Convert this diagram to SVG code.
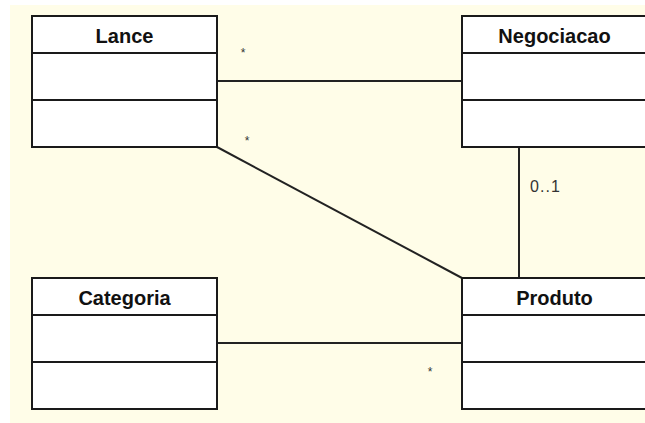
<svg xmlns="http://www.w3.org/2000/svg" width="645" height="423" viewBox="0 0 645 423">
<style>
.box{fill:#ffffff;stroke:#1a1a1a;stroke-width:2}
.div{stroke:#1a1a1a;stroke-width:2}
.title{font-family:"Liberation Sans",Arial,sans-serif;font-weight:bold;font-size:20px;fill:#111;text-anchor:middle}
.conn{stroke:#222;stroke-width:2;fill:none}
.mult{font-family:"Liberation Sans",Arial,sans-serif;font-size:12px;fill:#333;text-anchor:middle}
.mult2{font-family:"Liberation Sans",Arial,sans-serif;font-size:16px;fill:#333}
</style>
<rect x="0" y="0" width="645" height="423" fill="#ffffff"/>
<rect x="10" y="5" width="635" height="418" fill="#fffde8"/>
<g id="connectors">
<line class="conn" x1="217" y1="81" x2="462" y2="81"/>
<line class="conn" x1="217" y1="147" x2="462" y2="278"/>
<line class="conn" x1="519" y1="147" x2="519" y2="278"/>
<line class="conn" x1="217" y1="343" x2="462" y2="343"/>
<text class="mult" x="243" y="57">*</text>
<text class="mult" x="247" y="145">*</text>
<text class="mult2" x="530" y="192" textLength="30" lengthAdjust="spacing">0..1</text>
<text class="mult" x="430" y="376">*</text>
</g>
<g id="Lance">
<rect class="box" x="32" y="16" width="185" height="131"/>
<line class="div" x1="32" y1="53" x2="217" y2="53"/>
<line class="div" x1="32" y1="100" x2="217" y2="100"/>
<text class="title" x="124.5" y="43">Lance</text>
</g>
<g id="Negociacao">
<rect class="box" x="462" y="16" width="185" height="131"/>
<line class="div" x1="462" y1="53" x2="647" y2="53"/>
<line class="div" x1="462" y1="100" x2="647" y2="100"/>
<text class="title" x="554.5" y="43">Negociacao</text>
</g>
<g id="Categoria">
<rect class="box" x="32" y="278" width="185" height="131"/>
<line class="div" x1="32" y1="315" x2="217" y2="315"/>
<line class="div" x1="32" y1="362" x2="217" y2="362"/>
<text class="title" x="124.5" y="305">Categoria</text>
</g>
<g id="Produto">
<rect class="box" x="462" y="278" width="185" height="131"/>
<line class="div" x1="462" y1="315" x2="647" y2="315"/>
<line class="div" x1="462" y1="362" x2="647" y2="362"/>
<text class="title" x="554.5" y="305">Produto</text>
</g>
</svg>
